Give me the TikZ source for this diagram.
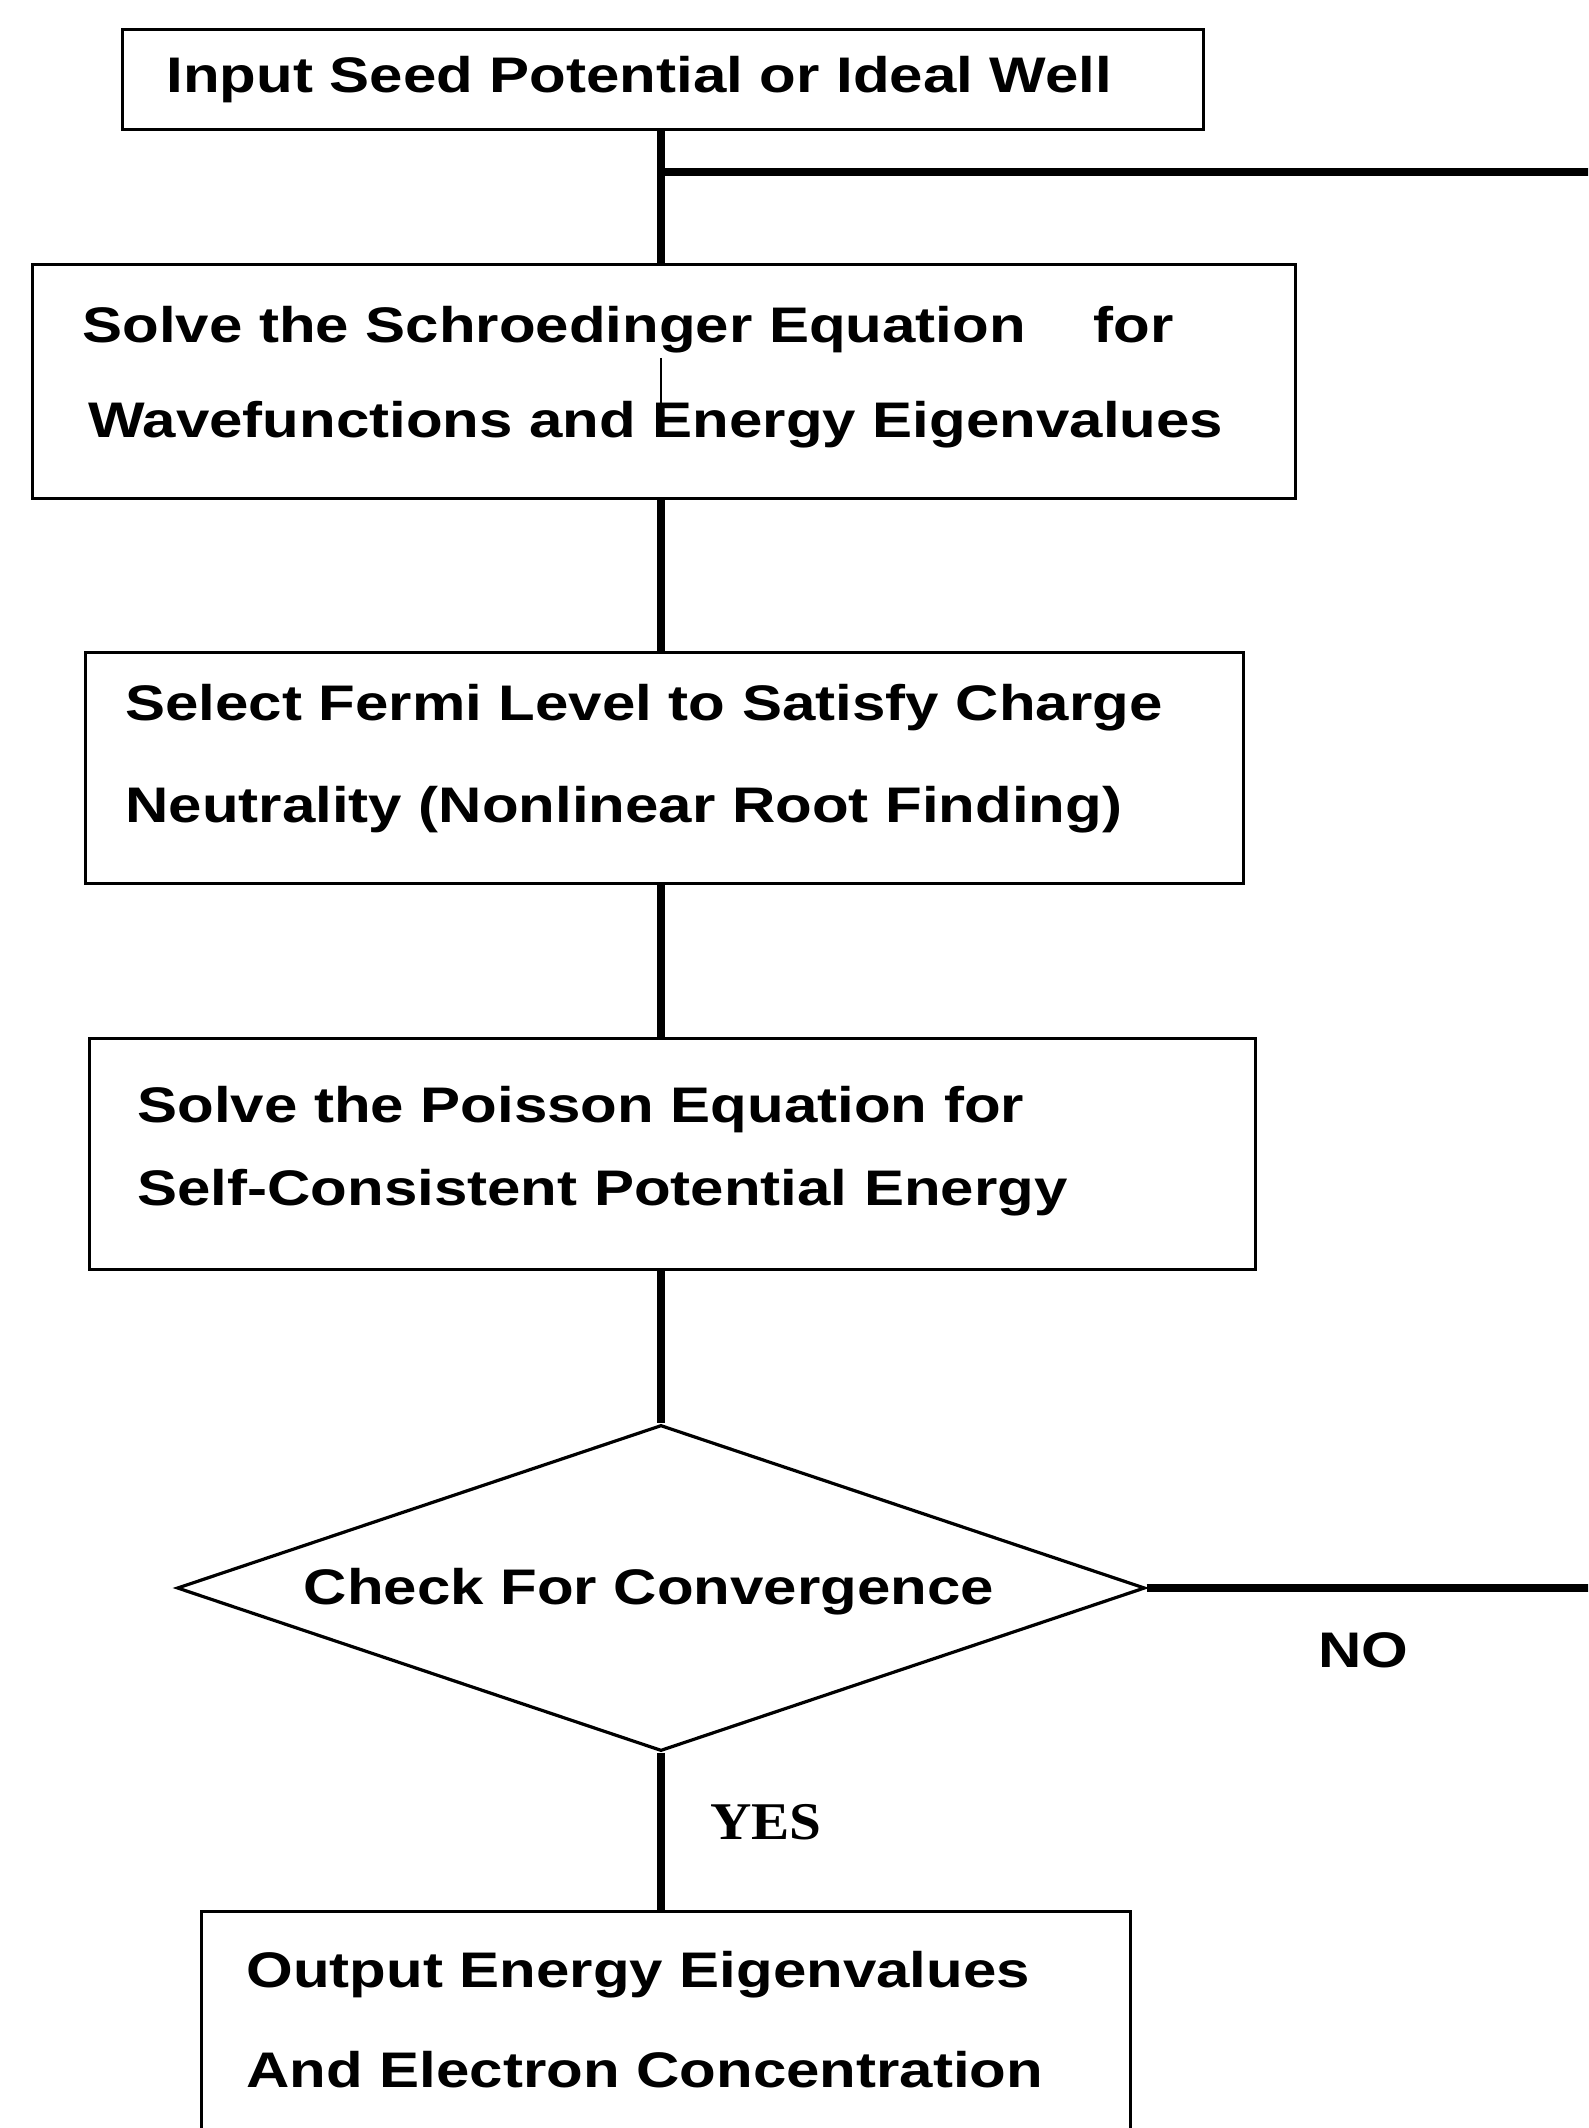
\documentclass[tikz,border=0pt]{standalone}
\usepackage{fontspec}
\newfontfamily\boxfont{Liberation Sans}[FakeStretch=1.2]
\newfontfamily\yesfont{Liberation Serif}[FakeStretch=1.08]
\usetikzlibrary{shapes.geometric}
\begin{document}
\begin{tikzpicture}[x=0.5pt,y=-0.5pt,
  boxnode/.style={draw=black,line width=1.5pt,rectangle,inner sep=0pt,fill=white},
  decision/.style={draw=black,line width=1.6pt,diamond,inner sep=0pt,fill=white},
  txt/.style={anchor=base west,inner sep=0pt,font=\boxfont\bfseries\fontsize{25}{30}\selectfont},
  ctxt/.style={anchor=base,inner sep=0pt,font=\boxfont\bfseries\fontsize{25}{30}\selectfont},
  yestxt/.style={anchor=base west,inner sep=0pt,font=\yesfont\bfseries\fontsize{26.5}{30}\selectfont},
  conn/.style={line width=4pt,draw=black},
  thinconn/.style={line width=1pt,draw=black}]
\clip (0,0) rectangle (1588,2128);
\fill[white] (0,0) rectangle (1588,2128);
\coordinate (tx) at (661,0);
% boxes
\node[boxnode,minimum width=540.5pt,minimum height=50pt] (b1) at (662.5,80) {};
\node[boxnode,minimum width=631.5pt,minimum height=117pt] (b2) at (663.5,382) {};
\node[boxnode,minimum width=579pt,minimum height=115.5pt] (b3) at (664,767.5) {};
\node[boxnode,minimum width=583pt,minimum height=115.5pt] (b4) at (672,1153.5) {};
\node[decision,minimum width=484pt,minimum height=163pt] (d) at (661,1588) {};
\node[boxnode,minimum width=464.5pt,minimum height=144.5pt] (b5) at (665.5,2055.5) {};
% texts
\node[txt] (t1) at (166,93) {Input Seed Potential or Ideal Well};
\node[txt] (t2a) at (82,343) {\hbox to 545.5pt{Solve the Schroedinger Equation\hfill for}};
\node[txt] (t2b) at (88,438) {Wavefunctions and Energy Eigenvalues};
\node[txt] (t3a) at (125,720) {Select Fermi Level to Satisfy Charge};
\node[txt] (t3b) at (125,822) {Neutrality (Nonlinear Root Finding)};
\node[txt] (t4a) at (137,1122) {Solve the Poisson Equation for};
\node[txt] (t4b) at (137,1205) {Self-Consistent Potential Energy};
\node[ctxt] (td) at (649,1604) {Check For Convergence};
\node[txt] (t5a) at (246,1987) {Output Energy Eigenvalues};
\node[txt] (t5b) at (246,2087) {And Electron Concentration};
\node[txt] (tno) at (1318,1667) {NO};
\node[yestxt] (tyes) at (710,1839) {YES};
% connectors
\coordinate (j) at (661,172);
\coordinate (jr) at (1600,172);
\coordinate (nr) at (1600,1588);
\coordinate (s1) at (661,358);
\coordinate (s2) at (661,410);
\draw[conn] (b1.south -| tx) -- (b2.north -| tx);
\draw[conn] (j) -- (jr);
\draw[conn] (b2.south -| tx) -- (b3.north -| tx);
\draw[conn] (b3.south -| tx) -- (b4.north -| tx);
\draw[conn] (b4.south -| tx) -- (d.north);
\draw[conn] (d.east) -- (nr);
\draw[conn] (d.south) -- (b5.north -| tx);
\draw[thinconn] (s1) -- (s2);
\end{tikzpicture}
\end{document}
